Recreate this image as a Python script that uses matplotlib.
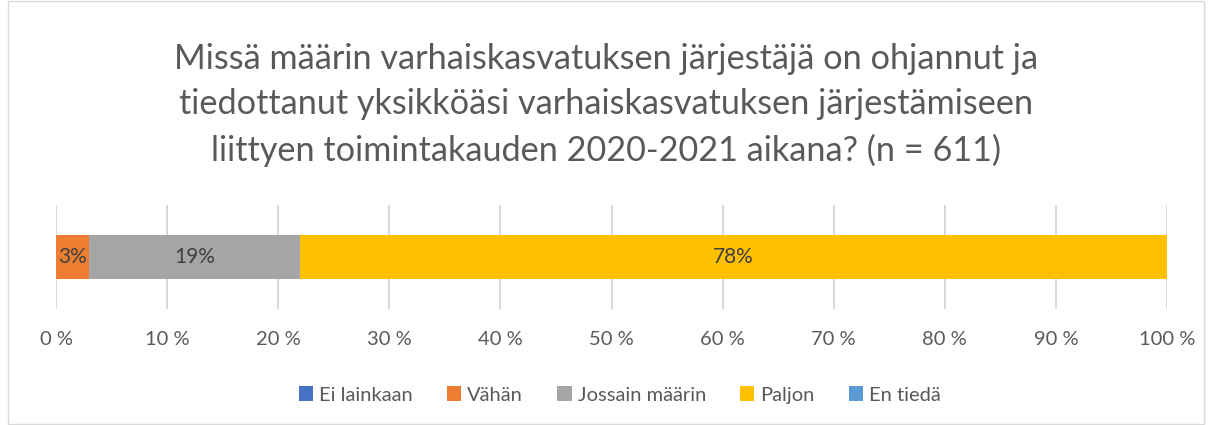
import matplotlib.pyplot as plt
from matplotlib.patches import Rectangle

plt.rcParams['font.family'] = ['Lato', 'DejaVu Sans']

categories = ['Ei lainkaan', 'Vähän', 'Jossain määrin', 'Paljon', 'En tiedä']
values = [0, 3, 19, 78, 0]
labels = ['', '3%', '19%', '78%', '']
colors = ['#4472C4', '#ED7D31', '#A5A5A5', '#FFC000', '#5B9BD5']
ticks = [0, 10, 20, 30, 40, 50, 60, 70, 80, 90, 100]

fig = plt.figure(figsize=(12.12, 4.25), dpi=100)
ax = fig.add_axes([56 / 1212, (425 - 309) / 425, 1111 / 1212, 104 / 425])

left = 0
for cat, v, lab, c in zip(categories, values, labels, colors):
    ax.barh(0, v, left=left, height=0.42, color=c, label=cat, zorder=3)
    if lab:
        ax.text(left + v / 2, 0, lab, ha='center', va='center',
                fontsize=15, color='#404040', zorder=4)
    left += v

ax.set_xlim(0, 100)
ax.set_ylim(-0.5, 0.5)
ax.set_xticks(ticks)
ax.set_xticklabels([f'{t} %' for t in ticks], fontsize=14.5, color='#595959')
ax.set_yticks([])
ax.grid(axis='x', color='#D9D9D9', linewidth=1.5, zorder=0)
ax.tick_params(axis='x', length=0, pad=16)
for s in ax.spines.values():
    s.set_visible(False)

fig.text(0.5, 1 - 105 / 425, 'Missä määrin varhaiskasvatuksen järjestäjä on ohjannut ja\n'
         'tiedottanut yksikköäsi varhaiskasvatuksen järjestämiseen\n'
         'liittyen toimintakauden 2020-2021 aikana? (n = 611)',
         ha='center', va='center', fontsize=24.7, color='#595959',
         linespacing=1.5)

fig.legend(loc='center', bbox_to_anchor=(620 / 1212, 30 / 425), ncol=5,
           frameon=False, fontsize=14.5, handlelength=0.7, handleheight=0.7,
           handletextpad=0.3, columnspacing=1.7, labelcolor='#595959')

fig.patches.append(Rectangle((0.007, 0.003), 0.986, 0.994, transform=fig.transFigure,
                             fill=False, edgecolor='#D9D9D9', linewidth=1))

fig.savefig('out.png', dpi=100)
